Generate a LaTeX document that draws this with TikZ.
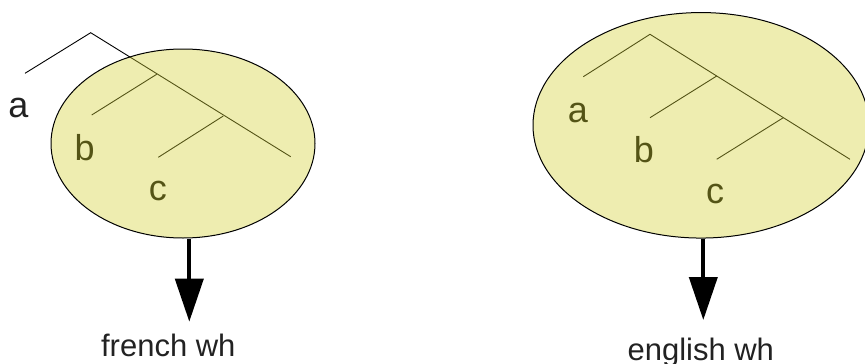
\documentclass[tikz,border=0pt]{standalone}
\usepackage{fontspec}
\setmainfont{Liberation Sans}
\usetikzlibrary{shapes.geometric,arrows.meta}
\definecolor{ellfill}{RGB}{212,210,57}
\definecolor{txtgray}{RGB}{34,34,34}
\begin{document}
\begin{tikzpicture}[x=1pt,y=-1pt,
  tree/.style={line width=0.9pt, black},
  lbl/.style={font=\fontsize{36}{40}\selectfont, text=black, inner sep=0pt, anchor=base},
  captext/.style={font=\fontsize{31}{36}\selectfont, text=txtgray, inner sep=0pt, anchor=base},
  blob/.style={ellipse, draw=black, line width=1pt, fill=ellfill, fill opacity=0.4, draw opacity=1, inner sep=0pt},
  bigarrow/.style={line width=4pt, black, -{Triangle[width=28pt,length=43pt]}}]
\useasboundingbox (0,0) rectangle (865,364);

% ---------- left: french ----------
\coordinate (Lp) at (90.7,32.7);
\coordinate (La) at (25,73.3);
\coordinate (Le) at (290.7,156.7);
\coordinate (Lb1) at (156.7,74.3);
\coordinate (Lb) at (91.7,115);
\coordinate (Lc1) at (223.3,116);
\coordinate (Lc) at (158.3,157.3);
\draw[tree] (La) -- (Lp) -- (Le);
\draw[tree] (Lb1) -- (Lb);
\draw[tree] (Lc1) -- (Lc);
\node[lbl, text=txtgray] (la) at (18.3,117.5) {a};
\node[lbl] (lb) at (84.7,160.5) {b};
\node[lbl] (lc) at (157.8,200) {c};
\node[blob, minimum width=264pt, minimum height=189pt] (ellL) at (183,143.5) {};
\coordinate (tipL) at (189.3,321.7);
\draw[bigarrow] (tipL |- ellL.south) -- (tipL);
\node[captext] (capL) at (168.3,356) {french wh};

% ---------- right: english ----------
\coordinate (Rp) at (650,34.3);
\coordinate (Ra) at (583.3,76.7);
\coordinate (Re) at (850,159.3);
\coordinate (Rb1) at (716.7,76);
\coordinate (Rb) at (650,117.7);
\coordinate (Rc1) at (783.3,117.7);
\coordinate (Rc) at (716.7,159.3);
\draw[tree] (Ra) -- (Rp) -- (Re);
\draw[tree] (Rb1) -- (Rb);
\draw[tree] (Rc1) -- (Rc);
\node[lbl] (ra) at (578,122) {a};
\node[lbl] (rb) at (644,162) {b};
\node[lbl] (rc) at (715,203) {c};
\node[blob, minimum width=336pt, minimum height=225.5pt] (ellR) at (701,125.3) {};
\coordinate (tipR) at (703.3,320);
\draw[bigarrow] (tipR |- ellR.south) -- (tipR);
\node[captext] (capR) at (700.8,360) {english wh};
\end{tikzpicture}
\end{document}
